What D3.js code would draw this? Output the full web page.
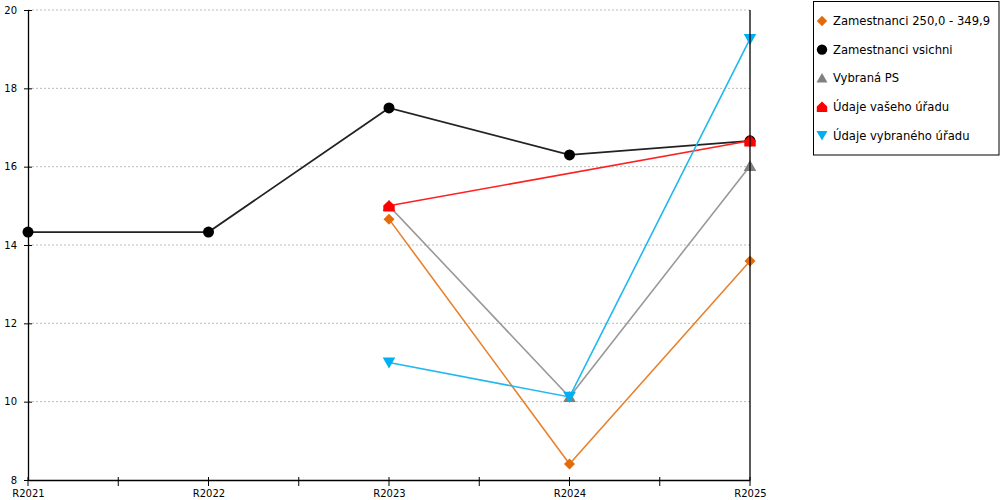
<!DOCTYPE html>
<html><head><meta charset="utf-8">
<script src="https://cdn.jsdelivr.net/npm/d3@7"></script>
<style>body{margin:0;background:#fff}svg{display:block;font-family:"DejaVu Sans",Verdana,sans-serif}</style>
</head><body>
<svg id="c" width="1000" height="500"></svg>
<script>
const categories = ["R2021","R2022","R2023","R2024","R2025"];
const yTicks = [8,10,12,14,16,18,20];
const seriesNames = ["Zamestnanci 250,0 - 349,9","Zamestnanci vsichni","Vybraná PS","Údaje vašeho úřadu","Údaje vybraného úřadu"];
const seriesColors = ["#E36C09","#000000","#808080","#FF0000","#00B0F0"];
const lineColors = ["#E8822F","#222222","#999999","#FF2020","#20B8F0"];
const seriesShapes = ["diamond","circle","triangle","house","triangleDown"];
const valuesOrange = [null,null,14.66,8.41,13.59];
const valuesBlack = [14.33,14.33,17.5,16.3,16.66];
const valuesGray = [null,null,15.0,10.12,16.02];
const valuesRed = [null,null,15.0,null,16.66];
const valuesBlue = [null,null,11.0,10.12,19.26];
const allValues = [valuesOrange,valuesBlack,valuesGray,valuesRed,valuesBlue];

const svg = d3.select("#c");
const x = d3.scalePoint().domain(categories).range([28,750]);
const y = d3.scaleLinear().domain([8,20]).range([480,10]);

// gridlines
svg.append("g").selectAll("line").data(yTicks.filter(t=>t>8)).join("line")
  .attr("x1",28).attr("x2",750).attr("y1",d=>y(d)).attr("y2",d=>y(d))
  .attr("stroke","#bbbbbb").attr("stroke-dasharray","2,2").attr("stroke-width",1);

function shapePath(s, r){
  switch(s){
    case "diamond": return `M0,${-r}L${r},0L0,${r}L${-r},0Z`;
    case "circle": return d3.symbol(d3.symbolCircle, Math.PI*r*r)();
    case "triangle": return `M0,${-r}L${r*1.05},${r*0.85}L${-r*1.05},${r*0.85}Z`;
    case "triangleDown": return `M0,${r}L${r*1.05},${-r*0.85}L${-r*1.05},${-r*0.85}Z`;
    case "house": return `M0,${-r}L${r},${-r*0.05}L${r},${r}L${-r},${r}L${-r},${-r*0.05}Z`;
  }
}
const markerR = [5.5,5.5,6,5.7,6];

const line = d3.line().x(d=>x(d.c)).y(d=>y(d.v));
allValues.forEach((vals,i)=>{
  const pts = categories.map((c,j)=>({c, v: vals[j]})).filter(d=>d.v!==null);
  const g = svg.append("g");
  g.append("path").datum(pts).attr("d",line).attr("fill","none")
    .attr("stroke",lineColors[i]).attr("stroke-width", i===1?1.8:1.6);
  g.selectAll("path.m").data(pts).join("path").attr("class","m")
    .attr("transform",d=>`translate(${x(d.c)},${y(d.v)})`)
    .attr("d",shapePath(seriesShapes[i],markerR[i])).attr("fill",seriesColors[i]);
});

// y axis
const yAxis = svg.append("g").attr("transform","translate(28,0)")
  .call(d3.axisLeft(y).tickValues(yTicks).tickSize(0).tickPadding(11));
yAxis.select(".domain").attr("stroke","#000").attr("stroke-width",1.3);
yAxis.selectAll("text").attr("font-size","10px").attr("font-family","DejaVu Sans").attr("fill","#000");
yAxis.selectAll(".tick").append("line").attr("x1",-4).attr("x2",4).attr("stroke","#000");

// right vertical line
svg.append("line").attr("x1",750).attr("x2",750).attr("y1",10).attr("y2",480)
  .attr("stroke","#000").attr("stroke-width",1.3);

// x axis
const xAxis = svg.append("g").attr("transform","translate(0,480)")
  .call(d3.axisBottom(x).tickSize(0).tickPadding(10));
xAxis.select(".domain").attr("stroke","#000").attr("stroke-width",1.3);
xAxis.selectAll("text").attr("font-size","10px").attr("font-family","DejaVu Sans").attr("fill","#000");
const step = x.step();
const tickPos = [];
categories.forEach((c,i)=>{ tickPos.push(x(c)); if(i<categories.length-1) tickPos.push(x(c)+step/2); });
xAxis.append("g").selectAll("line").data(tickPos).join("line")
  .attr("x1",d=>d).attr("x2",d=>d).attr("y1",-3).attr("y2",6).attr("stroke","#000");

// legend
const lg = svg.append("g");
lg.append("rect").attr("x",813.5).attr("y",1.5).attr("width",185.5).attr("height",153.5)
  .attr("fill","#fff").attr("stroke","#000").attr("stroke-width",1);
seriesNames.forEach((n,i)=>{
  const yy = 21 + i*28.6;
  lg.append("path").attr("transform",`translate(822,${yy})`)
    .attr("d",shapePath(seriesShapes[i],5.2)).attr("fill",seriesColors[i]);
  lg.append("text").attr("x",833).attr("y",yy).attr("dy","0.36em")
    .attr("font-size","11.6px").attr("fill","#000").text(n);
});
</script>
</body></html>
